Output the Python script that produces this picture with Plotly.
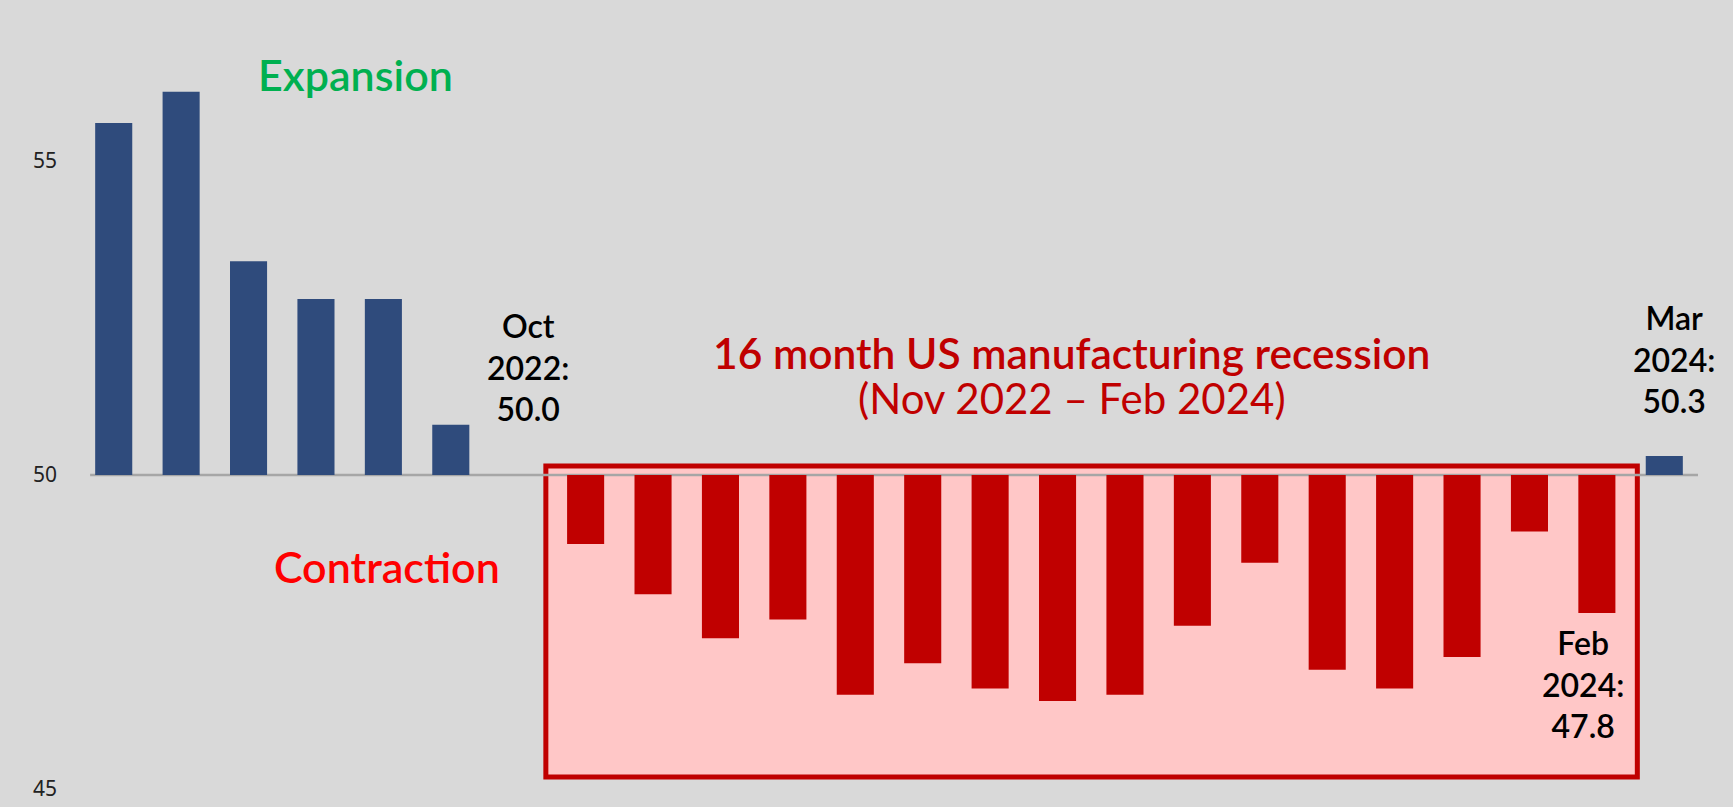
import plotly.graph_objects as go

months = ["Apr 2022", "May 2022", "Jun 2022", "Jul 2022", "Aug 2022", "Sep 2022", "Oct 2022",
          "Nov 2022", "Dec 2022", "Jan 2023", "Feb 2023", "Mar 2023", "Apr 2023", "May 2023",
          "Jun 2023", "Jul 2023", "Aug 2023", "Sep 2023", "Oct 2023", "Nov 2023", "Dec 2023",
          "Jan 2024", "Feb 2024", "Mar 2024"]
pmi = [55.6, 56.1, 53.4, 52.8, 52.8, 50.8, 50.0,
       48.9, 48.1, 47.4, 47.7, 46.5, 47.0, 46.6,
       46.4, 46.5, 47.6, 48.6, 46.9, 46.6, 47.1,
       49.1, 47.8, 50.3]
y_ticks = [45, 50, 55]
threshold = 50

BLUE = "#2F4B7C"
RED = "#C00000"
FONT = "Lato"

colors = [RED if v < threshold else BLUE for v in pmi]
x_idx = list(range(len(months)))

fig = go.Figure()
fig.add_trace(go.Bar(
    x=x_idx, y=[v - threshold for v in pmi], base=threshold,
    marker=dict(color=colors, line=dict(width=0)),
    customdata=months, hovertemplate="%{customdata}: %{y}<extra></extra>",
    width=0.55,
))

# recession box
fig.add_shape(type="rect", xref="x", yref="y", x0=6.41, x1=22.6, y0=45.19, y1=50.14,
              fillcolor="#FFC7C7", line=dict(color=RED, width=5), layer="below")
# 50 line
fig.add_shape(type="line", xref="x", yref="y", x0=-0.35, x1=23.5, y0=threshold, y1=threshold,
              line=dict(color="#A6A6A6", width=2.5), layer="below")

ann = [
    dict(x=3.59, y=56.37, text="Expansion", font=dict(color="#00B050", size=43, weight=600)),
    dict(x=4.05, y=48.54, text="Contraction", font=dict(color="#FF0000", size=43, weight=600)),
    dict(x=6.14, y=51.72, text="Oct<br>2022:<br>50.0", font=dict(color="black", size=32, weight=600)),
    dict(x=14.21, y=51.95, text="16 month US manufacturing recession",
         font=dict(color=RED, size=42.5, weight=600)),
    dict(x=14.21, y=51.22, text="(Nov 2022 – Feb 2024)", font=dict(color=RED, size=42)),
    dict(x=23.15, y=51.85, text="Mar<br>2024:<br>50.3", font=dict(color="black", size=32, weight=600)),
    dict(x=21.8, y=46.67, text="Feb<br>2024:<br>47.8", font=dict(color="black", size=32, weight=600)),
]
for a in ann:
    a["font"]["family"] = FONT
    fig.add_annotation(xref="x", yref="y", showarrow=False, xanchor="center", yanchor="middle", **a)

fig.update_layout(
    width=1733, height=807,
    margin=dict(l=80, r=35, t=0, b=18),
    paper_bgcolor="#D9D9D9", plot_bgcolor="#D9D9D9",
    showlegend=False, bargap=0.45,
    font=dict(family=FONT),
)
fig.update_xaxes(range=[-0.5, 23.5], showticklabels=False, showgrid=False, zeroline=False,
                 showline=False, ticks="")
fig.update_yaxes(range=[45, 57.56], tickvals=y_ticks, showgrid=False, zeroline=False,
                 showline=False, ticks="", ticklabelstandoff=22,
                 tickfont=dict(size=21, color="#222222", family="Noto Sans"))

fig.write_html("out.html")
